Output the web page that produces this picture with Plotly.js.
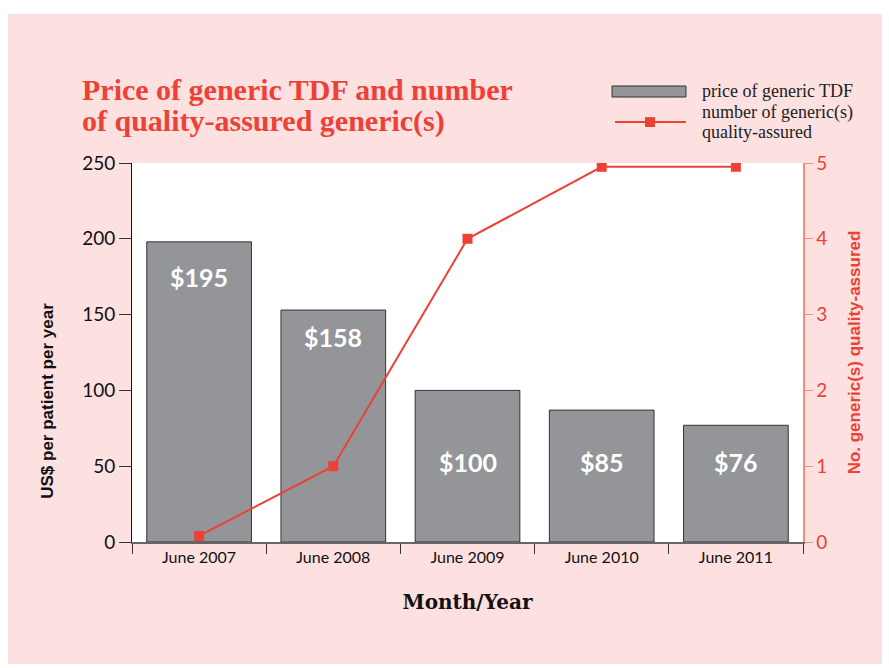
<!DOCTYPE html>
<html>
<head>
<meta charset="utf-8">
<script src="https://cdn.plot.ly/plotly-3.0.1.min.js"></script>
<style>
  html, body { margin: 0; padding: 0; background: #fff; }
  #panel { position: absolute; left: 8px; top: 14px; width: 874px; height: 650px; background: #fde0e0; }
  #chart { position: absolute; left: 0; top: 0; width: 889px; height: 668px; }
</style>
</head>
<body>
<div id="panel"></div>
<div id="chart"></div>
<script>
const months = ['June 2007', 'June 2008', 'June 2009', 'June 2010', 'June 2011'];
const priceValues = [198, 153, 100, 87, 77];
const priceLabels = ['$195', '$158', '$100', '$85', '$76'];
const priceLabelY = [175, 135, 53, 53, 53];
const genericCounts = [0.08, 1, 4, 4.95, 4.95];

const red = '#ee4136';
const serif = 'Liberation Serif, serif';
const sans = 'Liberation Sans, Arial, sans-serif';

const traces = [
    {
        x: months,
        y: priceValues,
        type: 'bar',
        name: 'price of generic TDF',
        marker: { color: '#939598', line: { color: '#333333', width: 1 } },
    },
    {
        x: months,
        y: genericCounts,
        yaxis: 'y2',
        mode: 'lines+markers',
        name: 'number of generic(s) quality-assured',
        line: { color: red, width: 2 },
        marker: { color: red, symbol: 'square', size: 10 },
    },
];

// value labels inside the bars
const annotations = months.map((m, i) => ({
    x: m,
    y: priceLabelY[i],
    xref: 'x',
    yref: 'y',
    text: '<b>' + priceLabels[i] + '</b>',
    showarrow: false,
    font: { family: 'Lato, sans-serif', size: 25, color: '#ffffff' },
}));

function paperText(text, x, y, font, extra) {
    return Object.assign({
        xref: 'paper', yref: 'paper', x: x, y: y,
        xanchor: 'left', yanchor: 'middle',
        text: text, showarrow: false, font: font,
    }, extra || {});
}

const titleFont = { family: serif, size: 30, color: red };
const legendFont = { family: serif, size: 18, color: '#222' };

annotations.push(
    paperText('<b>Price of generic TDF and number</b>', -0.078, 1.193, titleFont),
    paperText('<b>of quality-assured generic(s)</b>', -0.078, 1.111, titleFont),
    // left axis title sits low in the reference
    paperText('<b>US$ per patient per year</b>', -0.127, 0.372,
        { family: sans, size: 17, color: '#111' }, { xanchor: 'center', textangle: -90 }),
    // legend texts
    paperText('price of generic TDF', 0.847, 1.19, legendFont),
    paperText('number of generic(s)', 0.847, 1.132, legendFont),
    paperText('quality-assured', 0.847, 1.082, legendFont)
);

// legend keys
const shapes = [
    {
        type: 'rect', xref: 'paper', yref: 'paper',
        x0: 0.7154, x1: 0.8256, y0: 1.1741, y1: 1.2032,
        fillcolor: '#939598', line: { color: '#333333', width: 1 },
    },
    {
        type: 'line', xref: 'paper', yref: 'paper',
        x0: 0.7198, x1: 0.8256, y0: 1.108, y1: 1.108,
        line: { color: red, width: 2 },
    },
    {
        type: 'rect', xref: 'paper', yref: 'paper',
        x0: 0.7645, x1: 0.7794, y0: 1.095, y1: 1.121,
        fillcolor: red, line: { width: 0 },
    },
];

const layout = {
    paper_bgcolor: 'rgba(0,0,0,0)',
    plot_bgcolor: '#ffffff',
    margin: { t: 163, l: 132, r: 86, b: 126 },
    bargap: 0.22,
    showlegend: false,
    xaxis: {
        showline: true, linecolor: '#666666', linewidth: 1.5,
        ticks: 'outside', tickson: 'boundaries', ticklen: 10, tickcolor: '#333',
        tickfont: { family: 'Lato, sans-serif', size: 16, color: '#111' },
        title: { text: '<b>Month/Year</b>', font: { family: 'DejaVu Serif, serif', size: 20, color: '#111' }, standoff: 30 },
    },
    yaxis: {
        range: [0, 250], tickvals: [0, 50, 100, 150, 200, 250],
        showline: true, linecolor: '#111', linewidth: 1,
        ticks: 'outside', ticklen: 12, tickcolor: '#333',
        showgrid: false, zeroline: false,
        tickfont: { family: 'Lato, sans-serif', size: 19, color: '#111' },
    },
    yaxis2: {
        overlaying: 'y', side: 'right',
        range: [0, 5], tickvals: [0, 1, 2, 3, 4, 5],
        showline: true, linecolor: '#f28b82', linewidth: 1.5,
        ticks: 'outside', ticklen: 8, tickcolor: '#f28b82',
        showgrid: false, zeroline: false,
        tickfont: { family: 'Lato, sans-serif', size: 19, color: red },
        title: { text: '<b>No. generic(s) quality-assured</b>', font: { family: sans, size: 17, color: red }, standoff: 22 },
    },
    annotations: annotations,
    shapes: shapes,
};

Plotly.newPlot('chart', traces, layout, { displayModeBar: false, staticPlot: true });
</script>
</body>
</html>
